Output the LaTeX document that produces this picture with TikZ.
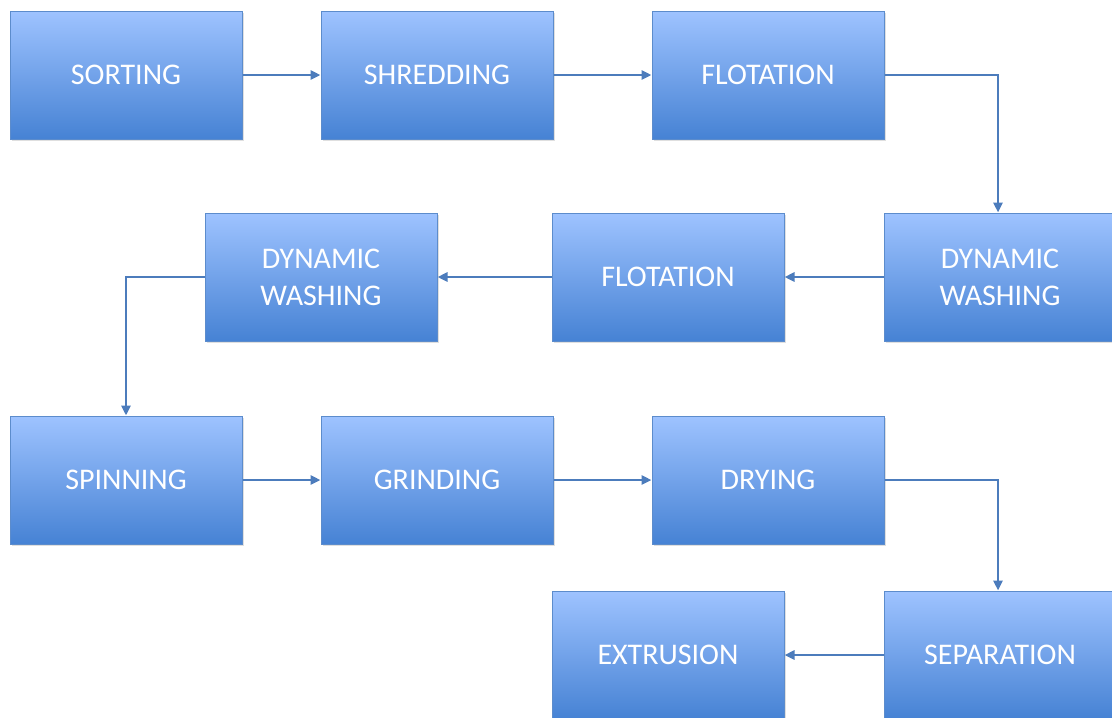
\documentclass[tikz,border=0pt]{standalone}
\usepackage{fontspec}
\setmainfont{Carlito}
\usetikzlibrary {arrows.meta}
\usetikzlibrary {shadows}

\definecolor{boxtop}{RGB}{158,195,255}
\definecolor{boxbottom}{RGB}{70,130,212}
\definecolor{boxline}{RGB}{92,140,204}
\definecolor{arrowblue}{RGB}{76,124,188}

\begin{document}
\begin{tikzpicture}[x=1pt, y=-1pt,
    procbox/.style = {rectangle, draw=boxline, line width=1pt,
      top color=boxtop, bottom color=boxbottom,
      drop shadow={shadow xshift=1.5pt, shadow yshift=-2pt, opacity=0.25},
      minimum width=232pt, minimum height=128pt, align=center,
      text=white, font=\fontsize{30}{37}\selectfont},
    flowarrow/.style = {arrows = {-Triangle[length=10pt, width=9pt]},
      draw=arrowblue, line width=2.5pt}]
        \useasboundingbox (0, 0) rectangle (1112, 718);

        % first row
        \node [procbox] (sort)  at (126, 75) {SORTING};
        \node [procbox] (shred) at (437, 75) {SHREDDING};
        \node [procbox] (flotA) at (768, 75) {FLOTATION};

        % second row
        \node [procbox] (washA) at (1000, 277) {DYNAMIC\\WASHING};
        \node [procbox] (flotB) at (668, 277) {FLOTATION};
        \node [procbox] (washB) at (321, 277) {DYNAMIC\\WASHING};

        % third row
        \node [procbox] (spin)  at (126, 480) {SPINNING};
        \node [procbox] (grind) at (437, 480) {GRINDING};
        \node [procbox] (dry)   at (768, 480) {DRYING};

        % last row
        \node [procbox] (extr) at (668, 655) {EXTRUSION};
        \node [procbox] (sep)  at (1000, 655) {SEPARATION};

        \draw [flowarrow] (sort) -- (shred);
        \draw [flowarrow] (shred) -- (flotA);
        \draw [flowarrow] (flotA.east) -| ([xshift=-2pt]washA.north);
        \draw [flowarrow] (washA) -- (flotB);
        \draw [flowarrow] (flotB) -- (washB);
        \draw [flowarrow] (washB.west) -| (spin.north);
        \draw [flowarrow] (spin) -- (grind);
        \draw [flowarrow] (grind) -- (dry);
        \draw [flowarrow] (dry.east) -| ([xshift=-2pt]sep.north);
        \draw [flowarrow] (sep) -- (extr);
      \end{tikzpicture}
\end{document}
